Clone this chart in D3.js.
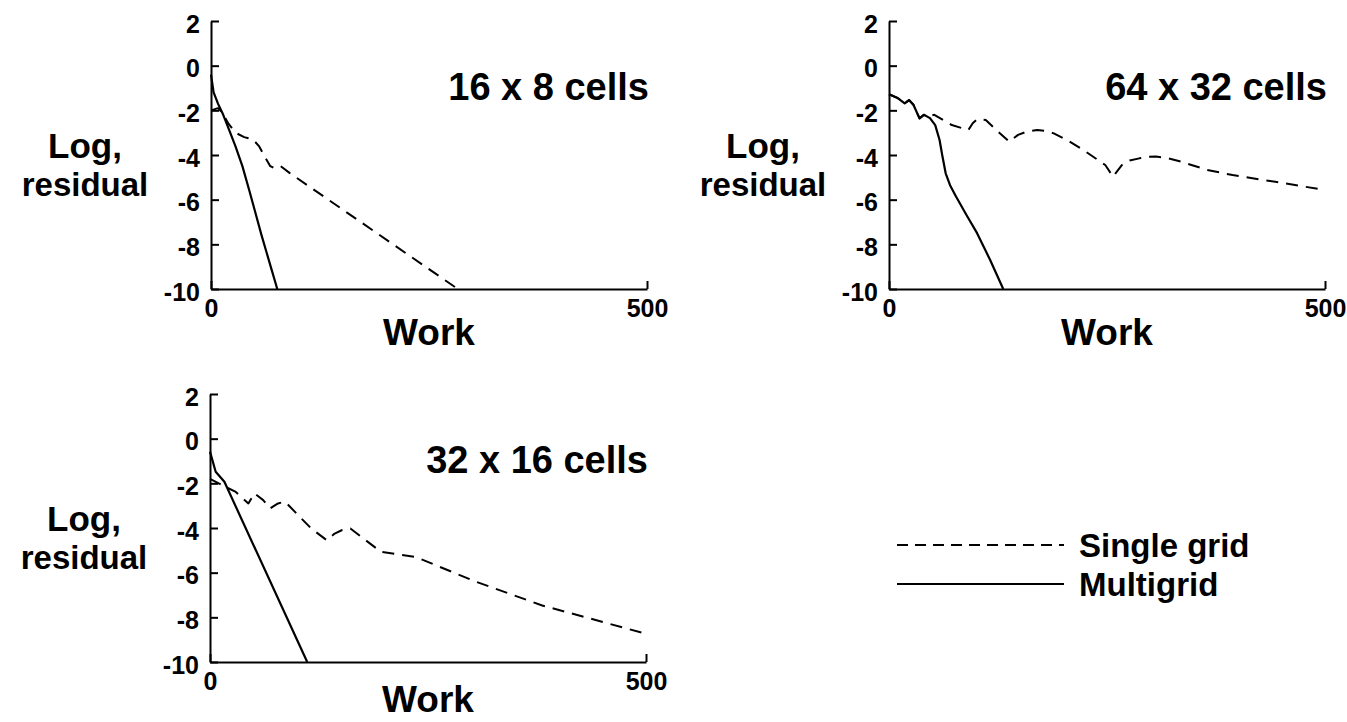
<!DOCTYPE html>
<html>
<head>
<meta charset="utf-8">
<script src="https://cdn.jsdelivr.net/npm/d3@7"></script>
<style>
	body { margin: 0; background: #fff; }
	svg text { font-family: 'Liberation Sans', Arial, Helvetica, sans-serif; font-weight: bold; fill: #000; }
</style>
</head>
<body>
<svg id="chart"></svg>
<script>
// axis ticks (same for every panel)
const workTicks = [0, 500];
const residualTicks = [2, 0, -2, -4, -6, -8, -10];

const panelTitles = ['16 x 8 cells', '64 x 32 cells', '32 x 16 cells'];
const legendLabels = ['Single grid', 'Multigrid'];

// [work, log residual]
const single16x8 = [
	[0, -2.0], [8, -1.9], [13, -2.1], [20, -2.6], [28, -3.0], [38, -3.2],
	[48, -3.3], [55, -3.6], [62, -4.1], [68, -4.5], [73, -4.6], [80, -4.5],
	[90, -4.8], [283, -10],
];
const multi16x8 = [
	[0, -0.4], [3, -1.2], [8, -1.7], [14, -2.2], [21, -2.9], [28, -3.6],
	[36, -4.5], [44, -5.6], [51, -6.6], [58, -7.6], [64, -8.4], [70, -9.2],
	[76, -10],
];

const single64x32 = [
	[0, -1.28], [10, -1.45], [18, -1.69], [23, -1.54], [28, -1.75],
	[35, -2.36], [40, -2.2], [43, -2.28], [52, -2.2], [72, -2.66],
	[91, -2.88], [96, -2.58], [101, -2.4], [111, -2.43], [123, -2.88],
	[138, -3.4], [148, -3.1], [158, -2.95], [170, -2.88], [180, -2.92],
	[189, -3.03], [205, -3.35], [223, -3.78], [248, -4.45], [257, -4.97],
	[267, -4.45], [276, -4.25], [287, -4.15], [298, -4.08], [306, -4.07],
	[320, -4.15], [335, -4.3], [365, -4.67], [394, -4.9], [443, -5.2],
	[500, -5.57],
];
const multi64x32 = [
	[0, -1.28], [10, -1.45], [18, -1.69], [23, -1.54], [28, -1.75],
	[35, -2.36], [40, -2.2], [47, -2.35], [53, -2.66], [58, -3.33],
	[61, -4.0], [65, -4.82], [70, -5.35], [77, -5.87], [89, -6.7],
	[101, -7.5], [116, -8.7], [131, -10],
];

const single32x16 = [
	[0, -1.8], [10, -2.0], [20, -2.2], [29, -2.37], [44, -2.9],
	[51, -2.45], [61, -2.75], [69, -3.12], [78, -2.9], [86, -2.82],
	[101, -3.42], [116, -4.02], [134, -4.55], [143, -4.25], [151, -4.1],
	[161, -4.02], [176, -4.47], [196, -5.07], [236, -5.3], [306, -6.42],
	[381, -7.47], [431, -8.0], [500, -8.74],
];
const multi32x16 = [
	[0, -0.58], [6.5, -1.48], [16.5, -1.93], [111.5, -10],
];

class ConvergencePlot {
	constructor(_config, _single, _multi) {
		this.config = {
			parentElement: _config.parentElement,
			left: _config.left,
			top: _config.top,
			width: 436,
			height: 268,
			title: _config.title,
			workOffset: _config.workOffset || 56,
		};
		this.single = _single;
		this.multi = _multi;
		this.initVis();
	}

	initVis() {
		let vis = this;

		vis.chart = vis.config.parentElement
			.append('g')
			.attr('transform', `translate(${vis.config.left},${vis.config.top})`);

		vis.xScale = d3.scaleLinear().domain([0, 500]).range([0, vis.config.width]);
		vis.yScale = d3.scaleLinear().domain([-10, 2]).range([vis.config.height, 0]);

		// ticks point inward
		vis.xAxis = d3.axisBottom(vis.xScale)
			.tickValues(workTicks)
			.tickSizeInner(-8)
			.tickSizeOuter(0)
			.tickFormat(d3.format('d'));
		vis.yAxis = d3.axisLeft(vis.yScale)
			.tickValues(residualTicks)
			.tickSizeInner(-8)
			.tickSizeOuter(0)
			.tickPadding(11)
			.tickFormat((d) => (d < 0 ? '-' + Math.abs(d) : d));

		vis.line = d3.line()
			.x((d) => vis.xScale(d[0]))
			.y((d) => vis.yScale(d[1]));

		vis.renderVis();
	}

	renderVis() {
		let vis = this;

		vis.chart.append('path')
			.datum(vis.single)
			.attr('d', vis.line)
			.attr('fill', 'none')
			.attr('stroke', '#000')
			.attr('stroke-width', 2)
			.attr('stroke-linejoin', 'round')
			.attr('stroke-dasharray', '12,8');

		vis.chart.append('path')
			.datum(vis.multi)
			.attr('d', vis.line)
			.attr('fill', 'none')
			.attr('stroke', '#000')
			.attr('stroke-linejoin', 'round')
			.attr('stroke-width', 2.2);

		const xAxisG = vis.chart.append('g')
			.attr('transform', `translate(0,${vis.config.height})`)
			.call(vis.xAxis);
		xAxisG.selectAll('text')
			.attr('y', 10)
			.style('font-size', '25px');

		const yAxisG = vis.chart.append('g').call(vis.yAxis);
		yAxisG.selectAll('text')
			.attr('dy', '0.45em')
			.style('font-size', '25px');

		vis.chart.selectAll('.domain, .tick line')
			.attr('stroke', '#000')
			.attr('stroke-width', 2);

		vis.chart.append('text')
			.attr('x', vis.config.width + 2)
			.attr('y', 79)
			.attr('text-anchor', 'end')
			.style('font-size', '38px')
			.text(vis.config.title);

		vis.chart.append('text')
			.attr('x', -126)
			.attr('y', 137)
			.attr('text-anchor', 'middle')
			.style('font-size', '35px')
			.text('Log,');

		vis.chart.append('text')
			.attr('x', -126)
			.attr('y', 175)
			.attr('text-anchor', 'middle')
			.style('font-size', '33px')
			.text('residual');

		vis.chart.append('text')
			.attr('x', vis.config.width / 2)
			.attr('y', vis.config.height + vis.config.workOffset)
			.attr('text-anchor', 'middle')
			.style('font-size', '37px')
			.text('Work');
	}
}

const svg = d3.select('#chart')
	.attr('width', 1347)
	.attr('height', 722);

new ConvergencePlot({ parentElement: svg, left: 211, top: 21, title: panelTitles[0] }, single16x8, multi16x8);
new ConvergencePlot({ parentElement: svg, left: 889, top: 21, title: panelTitles[1] }, single64x32, multi64x32);
// bottom panel: keep "Work" inside the page
new ConvergencePlot({ parentElement: svg, left: 210, top: 394, title: panelTitles[2], workOffset: 50 }, single32x16, multi32x16);

// legend
const legend = svg.append('g').attr('transform', 'translate(897,545)');
const legendRows = legend.selectAll('g')
	.data(legendLabels)
	.join('g')
	.attr('transform', (d, i) => `translate(0,${i * 39})`);
legendRows.append('line')
	.attr('x1', 0)
	.attr('x2', 167)
	.attr('stroke', '#000')
	.attr('stroke-width', 2)
	.attr('stroke-dasharray', (d, i) => (i === 0 ? '11,7' : null));
legendRows.append('text')
	.attr('x', 182)
	.attr('y', 12)
	.style('font-size', '33px')
	.text((d) => d);
</script>
</body>
</html>
